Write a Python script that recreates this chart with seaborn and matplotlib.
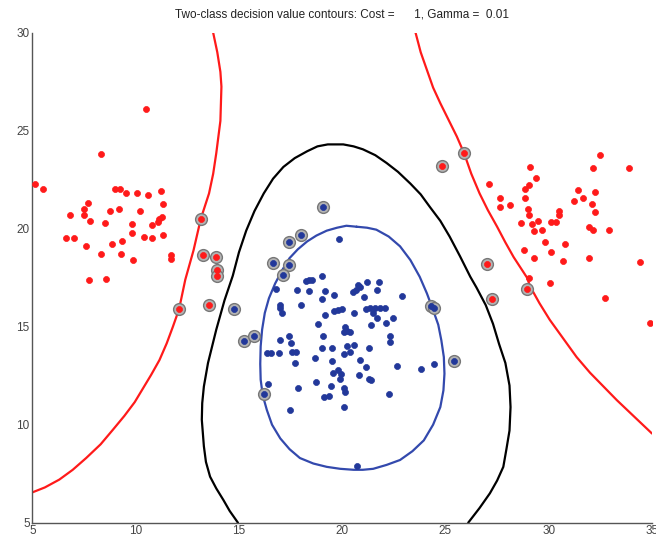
import numpy as np
import pandas as pd
import matplotlib
matplotlib.use('Agg')
import matplotlib.pyplot as plt
import seaborn as sns

# class +1 (red), left group
red_left_x = [5.1, 5.5, 8.3, 10.5, 6.8, 6.6, 7.0, 7.6, 7.7, 7.5, 7.5, 7.8, 8.3, 8.5, 8.75,
              8.85, 9.0, 9.25, 9.2, 9.35, 9.3, 9.55, 9.8, 9.8, 9.85, 10.05, 10.2, 10.4,
              10.6, 10.8, 10.8, 11.1, 11.15, 11.25, 11.3, 11.2, 11.3, 11.7, 11.7, 7.75, 8.55]
red_left_y = [22.3, 22.0, 23.8, 26.1, 20.7, 19.5, 19.5, 19.1, 21.3, 21.0, 20.7, 20.4, 18.7,
              20.3, 20.9, 19.2, 22.0, 22.05, 21.0, 19.35, 18.7, 21.8, 20.25, 19.8, 18.4,
              21.8, 20.9, 19.6, 21.7, 19.5, 20.2, 20.35, 20.5, 20.6, 21.25, 21.9, 19.7,
              18.65, 18.45, 17.4, 17.45]

# class +1 (red), right group
red_right_x = [27.1, 27.65, 27.65, 28.1, 28.65, 28.8, 29.1, 29.4, 28.85, 29.05, 28.85, 29.0,
               29.05, 29.2, 29.3, 29.5, 29.65, 29.3, 29.8, 30.1, 30.35, 30.5, 30.5, 30.1,
               30.7, 30.8, 31.2, 31.4, 31.65, 32.1, 32.25, 32.25, 31.95, 32.15, 32.15, 32.5,
               32.9, 33.9, 31.95, 34.4, 29.05, 30.05, 32.7, 34.9]
red_right_y = [22.3, 21.55, 21.1, 21.2, 20.3, 18.9, 23.15, 22.6, 22.05, 22.25, 21.55, 21.0,
               20.7, 20.25, 19.9, 20.4, 19.95, 18.5, 19.3, 20.35, 20.35, 20.9, 20.7, 18.8,
               18.35, 19.2, 21.4, 21.95, 21.55, 21.25, 21.85, 20.85, 20.1, 19.95, 23.1,
               23.75, 19.95, 23.1, 18.5, 18.3, 17.5, 17.25, 16.45, 15.2]

# class -1 (blue)
blue_x = [19.85, 19.0, 18.25, 18.4, 18.55, 17.8, 18.4, 19.15, 16.8, 19.0, 19.6, 20.75, 20.85,
          20.5, 20.65, 21.2, 21.8, 21.7, 21.05, 22.9, 17.0, 17.0, 17.1, 18.0, 19.6, 19.8,
          20.0, 19.15, 20.55, 21.15, 21.35, 21.6, 21.85, 22.05, 21.5, 21.7, 22.1, 22.45,
          18.85, 20.15, 20.25, 20.1, 20.4, 21.4, 19.05, 22.3, 22.3, 17.0, 17.4, 17.5, 19.0,
          19.5, 20.25, 20.55, 20.4, 21.3, 16.35, 16.55, 16.95, 17.55, 17.75, 17.7, 18.7,
          19.5, 20.1, 20.85, 21.15, 22.65, 23.8, 24.45, 19.55, 19.8, 19.95, 19.9, 20.8, 21.3,
          21.4, 18.75, 16.4, 17.85, 19.45, 20.1, 20.15, 19.1, 19.35, 22.25, 17.45, 20.1, 20.7]
blue_y = [19.45, 17.6, 17.35, 17.4, 17.4, 16.85, 16.8, 16.8, 16.9, 16.4, 16.6, 17.15, 17.0,
          16.75, 16.85, 17.3, 17.3, 16.85, 16.5, 16.55, 16.1, 15.95, 15.7, 16.1, 15.8, 15.85,
          15.9, 15.6, 15.7, 15.9, 15.95, 15.95, 15.95, 15.95, 15.7, 15.45, 15.2, 15.45,
          15.15, 15.0, 14.8, 14.75, 14.75, 15.1, 14.55, 14.55, 14.2, 14.3, 14.5, 14.15, 13.9,
          13.9, 14.0, 14.05, 13.7, 13.9, 13.65, 13.65, 13.65, 13.7, 13.7, 13.15, 13.4, 13.25,
          13.6, 13.3, 12.95, 13.0, 12.85, 13.1, 12.65, 12.8, 12.6, 12.35, 12.55, 12.35,
          12.3, 12.2, 12.1, 11.85, 11.95, 11.85, 11.65, 11.4, 11.45, 11.55, 10.75, 10.9, 7.9]

# support vectors
red_sv_x = [13.15, 13.25, 13.9, 13.95, 13.95, 12.1, 13.55, 25.9, 24.85, 27.0, 27.25, 28.95]
red_sv_y = [20.5, 18.65, 18.55, 17.9, 17.6, 15.9, 16.1, 23.85, 23.2, 18.2, 16.4, 16.9]
blue_sv_x = [14.75, 15.25, 15.75, 16.2, 19.05, 17.4, 18.0, 16.65, 17.4, 17.15, 24.3, 24.45, 25.4]
blue_sv_y = [15.9, 14.25, 14.55, 11.55, 21.1, 19.3, 19.7, 18.25, 18.15, 17.65, 16.05, 15.95, 13.25]

# decision value contours
red_left_cx = [13.75, 13.95, 14.1, 14.15, 14.1, 13.9, 13.75, 13.55, 13.15, 12.8, 12.4, 12.1,
               11.8, 11.5, 11.15, 10.75, 10.35, 9.95, 9.45, 8.9, 8.3, 7.6, 6.95, 6.3, 5.6, 5.0]
red_left_cy = [30.0, 29.0, 28.0, 27.25, 25.5, 23.85, 22.8, 21.8, 20.5, 18.9, 17.4, 15.9,
               15.0, 14.15, 13.3, 12.55, 11.85, 11.15, 10.45, 9.75, 9.0, 8.3, 7.7, 7.2, 6.8, 6.55]
red_right_cx = [23.55, 23.8, 24.1, 24.4, 24.75, 25.15, 25.55, 25.9, 26.25, 26.65, 27.05, 27.5,
                27.9, 28.3, 28.95, 29.1, 29.55, 30.05, 30.7, 31.35, 32.0, 32.65, 33.3, 33.95,
                34.5, 35.0]
red_right_cy = [30.0, 29.0, 28.1, 27.2, 26.4, 25.55, 24.7, 23.85, 22.8, 21.8, 20.95, 20.1,
                19.3, 18.55, 17.5, 17.05, 16.2, 15.35, 14.4, 13.45, 12.65, 11.95, 11.25, 10.6,
                10.05, 9.55]
black_cx = [14.95, 14.55, 14.25, 13.9, 13.6, 13.4, 13.3, 13.2, 13.22, 13.3, 13.5, 13.7, 13.9,
            14.3, 14.7, 15.0, 15.35, 15.75, 16.2, 16.65, 17.15, 17.7, 18.3, 18.8, 19.3, 20.05,
            20.55, 21.0, 21.6, 22.15, 22.7, 23.3, 23.8, 24.25, 24.75, 25.2, 25.7, 26.2, 26.5,
            26.95, 27.3, 27.6, 27.9, 28.1, 28.15, 28.1, 27.95, 27.8, 27.5, 27.15, 26.65, 26.1]
black_cy = [5.0, 5.6, 6.15, 6.75, 7.35, 8.1, 8.9, 10.25, 11.1, 11.95, 13.15, 14.0, 14.85,
            16.35, 17.6, 18.8, 19.9, 20.9, 21.8, 22.55, 23.15, 23.6, 23.95, 24.2, 24.3, 24.3,
            24.2, 24.05, 23.75, 23.35, 22.9, 22.3, 21.75, 21.1, 20.4, 19.6, 18.6, 17.55, 17.0,
            16.1, 15.15, 14.1, 13.15, 12.0, 10.9, 9.7, 8.75, 7.85, 7.15, 6.5, 5.75, 5.0]
blue_cx = [20.7, 21.2, 21.65, 22.25, 22.8, 23.3, 23.75, 24.1, 24.4, 24.65, 24.8, 24.92, 24.95,
           24.9, 24.75, 24.4, 23.95, 23.4, 22.8, 22.15, 21.5, 21.0, 20.55, 19.9, 19.25, 18.6,
           17.95, 17.45, 17.0, 16.6, 16.35, 16.15, 16.05, 16.03, 16.05, 16.12, 16.25, 16.45,
           16.75, 17.1, 17.45, 17.85, 18.3, 18.75, 19.25, 19.75, 20.2, 20.7]
blue_cy = [20.1, 20.05, 19.95, 19.6, 19.1, 18.4, 17.55, 16.7, 15.85, 15.1, 14.3, 13.45, 12.6,
           11.75, 10.9, 10.0, 9.2, 8.65, 8.2, 7.95, 7.75, 7.7, 7.7, 7.75, 7.85, 8.02, 8.3, 8.75,
           9.3, 10.0, 10.75, 11.5, 12.3, 13.1, 14.0, 14.85, 15.7, 16.45, 17.2, 17.9, 18.5, 18.95,
           19.35, 19.65, 19.9, 20.05, 20.15, 20.1]

xticks = [5, 10, 15, 20, 25, 30, 35]
yticks = [5, 10, 15, 20, 25, 30]

sns.set_style('white')
plt.rcParams['font.family'] = ['Liberation Sans', 'DejaVu Sans']

fig = plt.figure(figsize=(6.56, 5.41), dpi=100)
ax = fig.add_axes([0.0495, 0.0338, 0.9444, 0.9058])

RED = '#ff1a1a'
BLUE = '#22389a'

def curve(xs, ys, color):
    d = pd.DataFrame({'x': xs, 'y': ys})
    sns.lineplot(data=d, x='x', y='y', sort=False, estimator=None, color=color,
                 linewidth=1.6, ax=ax)

curve(red_left_cx, red_left_cy, RED)
curve(red_right_cx, red_right_cy, RED)
curve(black_cx, black_cy, 'black')
curve(blue_cx, blue_cy, '#3349ad')

sv = pd.DataFrame({'x': red_sv_x + blue_sv_x, 'y': red_sv_y + blue_sv_y})
sns.scatterplot(data=sv, x='x', y='y', s=72, color='#b4b4b4', edgecolor='#777777',
                linewidth=1.0, ax=ax, zorder=3)

red = pd.DataFrame({'x': red_left_x + red_right_x + red_sv_x,
                    'y': red_left_y + red_right_y + red_sv_y})
blue = pd.DataFrame({'x': blue_x + blue_sv_x, 'y': blue_y + blue_sv_y})
sns.scatterplot(data=red, x='x', y='y', s=19, color=RED, edgecolor=RED, linewidth=0.5,
                ax=ax, zorder=4)
sns.scatterplot(data=blue, x='x', y='y', s=19, color=BLUE, edgecolor=BLUE, linewidth=0.5,
                ax=ax, zorder=4)

ax.set_xlim(5, 35)
ax.set_ylim(5, 30)
ax.set_xticks(xticks)
ax.set_yticks(yticks)
ax.set_xlabel('')
ax.set_ylabel('')
sns.despine(ax=ax)
for s in ['left', 'bottom']:
    ax.spines[s].set_color('#555555')
    ax.spines[s].set_linewidth(1.0)
ax.tick_params(direction='in', length=4, width=1, colors='#555555', labelsize=8.5,
               pad=2, labelcolor='#444444')
ax.set_title('Two-class decision value contours: Cost =      1, Gamma =  0.01',
             fontsize=8.5, color='#222222', pad=11)

fig.savefig('out.png', dpi=100)
